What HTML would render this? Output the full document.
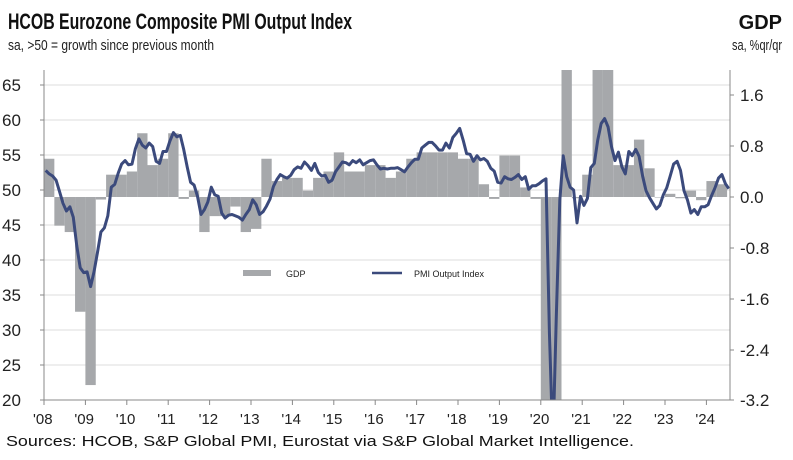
<!DOCTYPE html>
<html><head><meta charset="utf-8"><style>
html,body{margin:0;padding:0;background:#fff;width:793px;height:460px;overflow:hidden;}
svg{display:block;font-family:"Liberation Sans",Arial,sans-serif;}
</style></head><body>
<svg id="s" width="793" height="460" viewBox="0 0 793 460" xmlns="http://www.w3.org/2000/svg">
<text x="8" y="29" font-size="22" font-weight="bold" textLength="344" lengthAdjust="spacingAndGlyphs" fill="#111">HCOB Eurozone Composite PMI Output Index</text>
<text x="8" y="50" font-size="15" textLength="206" lengthAdjust="spacingAndGlyphs" fill="#222">sa, &gt;50 = growth since previous month</text>
<text x="782" y="29" font-size="20" font-weight="bold" text-anchor="end" fill="#111">GDP</text>
<text x="782" y="50" font-size="15" text-anchor="end" textLength="50" lengthAdjust="spacingAndGlyphs" fill="#222">sa, %qr/qr</text>
<text x="6" y="446" font-size="15" textLength="628" lengthAdjust="spacingAndGlyphs" fill="#111">Sources: HCOB, S&amp;P Global PMI, Eurostat via S&amp;P Global Market Intelligence.</text>
<defs><clipPath id="c"><rect x="44" y="70" width="686" height="330"/></clipPath></defs>
<g id="g"></g>
<g id="bars" clip-path="url(#c)"></g>
<g id="ln" clip-path="url(#c)"></g>
<g id="ax"></g>
</svg>
<script>
const NS="http://www.w3.org/2000/svg";
function el(p,t,a,txt){const e=document.createElementNS(NS,t);for(const k in a)e.setAttribute(k,a[k]);if(txt!==undefined)e.textContent=txt;document.getElementById(p).appendChild(e);return e;}
const L=44,R=730,T=70,B=400,YW=41.4;
const yl=v=>85+(65-v)*7;
const yr=v=>197-v*63.75;
for(let v=20;v<=65;v+=5){
 if(v>20) el("g","line",{x1:L,x2:R,y1:yl(v),y2:yl(v),stroke:"#dcdcdc","stroke-width":1});
 el("ax","text",{x:2,y:yl(v)+6,"font-size":17,fill:"#222"},String(v));
 el("ax","line",{x1:L-4,x2:L,y1:yl(v),y2:yl(v),stroke:"#888"});
}
[[1.6,"1.6"],[0.8,"0.8"],[0,"0.0"],[-0.8,"-0.8"],[-1.6,"-1.6"],[-2.4,"-2.4"],[-3.2,"-3.2"]].forEach(([v,s])=>{
 const y=v==-3.2?400:yr(v);
 el("ax","line",{x1:R,x2:R+4,y1:y,y2:y,stroke:"#888"});
 el("ax","text",{x:740,y:y+6,"font-size":17,fill:"#222"},s);
});
el("ax","line",{x1:L,x2:L,y1:T,y2:B,stroke:"#888"});
el("ax","line",{x1:R,x2:R,y1:T,y2:B,stroke:"#888"});
el("ax","line",{x1:L,x2:R,y1:B,y2:B,stroke:"#888"});
for(let i=0;i<=16;i++){const x=L+i*YW;
 el("ax","line",{x1:x,x2:x,y1:B,y2:B+5,stroke:"#888"});
 el("ax","text",{x:x-11,y:424,"font-size":15,fill:"#222"},"'"+String(8+i).padStart(2,"0"));
}
const gdp=[0.6,-0.45,-0.55,-1.8, -2.95,-0.04,0.35,0.35, 0.4,1.0,0.5,0.6, 1.0,-0.03,0.1,-0.55,
-0.3,-0.3,-0.15,-0.55, -0.5,0.6,0.25,0.3, 0.3,0.1,0.3,0.4, 0.7,0.4,0.4,0.5,
0.5,0.3,0.4,0.6, 0.7,0.7,0.7,0.7, 0.6,0.6,0.2,-0.03, 0.65,0.65,0.15,-0.03,
-5,-5,5,-0.02, 0.35,3,3,0.5, 0.5,0.9,0.45,0.0, 0.05,-0.02,0.1,-0.05, 0.25,0.2];
const qw=YW/4;
gdp.forEach((v,i)=>{const x=L+i*qw;const y=yr(v);
 el("bars","rect",{x:x,y:Math.min(y,197),width:qw,height:Math.max(Math.abs(y-197),0.5),fill:"#a6a8ab"});});
const p=[52.8,52.3,52.0,51.4,49.8,48.1,47.0,47.6,46.1,42.0,38.9,38.2,
38.3,36.2,38.3,41.1,44.0,44.6,46.3,50.4,50.8,52.4,53.7,54.2,
53.6,53.7,55.9,57.3,56.4,56.0,56.7,56.2,54.1,53.8,55.5,55.5,
57.0,58.2,57.6,57.8,55.8,53.3,51.1,50.7,49.1,46.5,47.2,48.3,
50.4,49.3,49.1,46.7,46.0,46.4,46.5,46.3,46.1,45.7,46.5,47.2,
48.6,47.9,46.5,46.9,47.7,48.7,50.5,51.5,52.2,51.9,51.7,52.1,
52.9,53.3,53.1,54.0,53.5,52.8,53.8,52.5,52.0,52.1,51.1,51.4,
52.6,53.3,54.0,53.9,53.6,54.2,53.9,54.3,53.6,53.9,54.2,54.3,
53.6,53.0,53.1,53.0,53.1,53.1,53.2,52.9,52.6,53.3,53.9,54.4,
54.4,56.0,56.4,56.8,56.8,56.3,55.7,55.7,56.7,56.0,57.5,58.1,
58.8,57.1,55.2,55.1,54.1,54.9,54.3,54.5,54.1,53.1,52.7,51.1,
51.0,51.9,51.6,51.5,51.8,52.2,51.5,51.9,50.1,50.6,50.6,50.9,
51.3,51.6,29.7,13.6,31.9,48.5,54.9,51.9,50.4,50.0,45.3,49.1,
47.8,48.8,53.2,53.8,57.1,59.5,60.2,59.0,56.2,54.2,55.4,53.3,
52.3,55.5,54.9,55.8,54.8,52.0,49.9,48.9,48.1,47.3,47.8,49.3,
50.3,52.0,53.7,54.1,52.8,49.9,48.6,46.7,47.2,46.5,47.6,47.6,
47.9,49.2,50.3,51.7,52.2,50.9,50.2];
el("ln","polyline",{points:p.map((v,i)=>(L+(i+0.5)*YW/12).toFixed(1)+","+yl(v).toFixed(1)).join(" "),fill:"none",stroke:"#3b4a7c","stroke-width":3,"stroke-linejoin":"round"});
el("ax","rect",{x:243,y:270,width:28,height:6,fill:"#a6a8ab"});
el("ax","text",{x:286,y:277,"font-size":9,fill:"#222"},"GDP");
el("ax","line",{x1:372,x2:402,y1:273,y2:273,stroke:"#3b4a7c","stroke-width":2.5});
el("ax","text",{x:414,y:277,"font-size":9,fill:"#222"},"PMI Output Index");
</script>
</body></html>
